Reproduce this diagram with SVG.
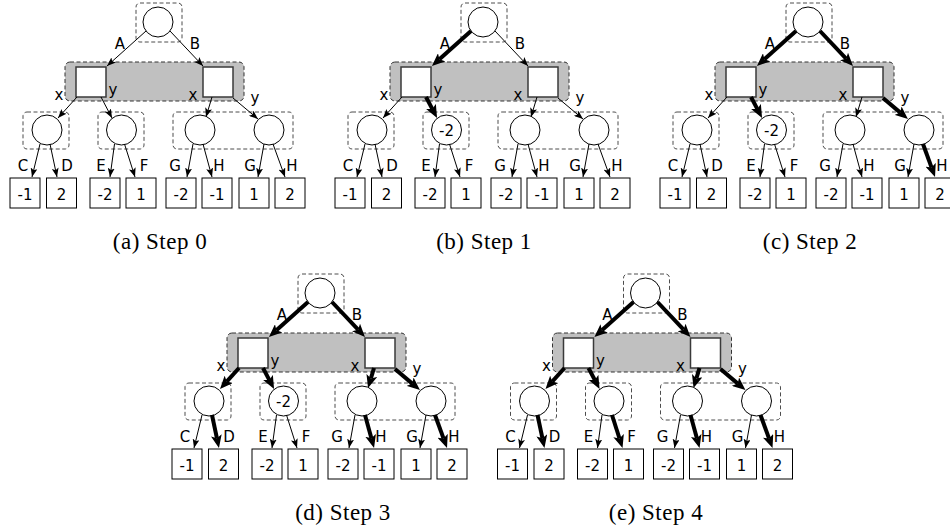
<svg xmlns="http://www.w3.org/2000/svg" width="950" height="531" viewBox="0 0 950 531">
<style>
.db{fill:none;stroke:#4d4d4d;stroke-width:1;stroke-dasharray:4 2.5}
.gb{fill:#c0c0c0;stroke:#333;stroke-width:1;stroke-dasharray:4 2.5}
.sq{fill:#fff;stroke:#3a3a3a;stroke-width:1.5}
.c{fill:#fff;stroke:#000;stroke-width:1}
.lf{fill:#fff;stroke:#000;stroke-width:1}
.tn{stroke:#000;stroke-width:1;fill:none;marker-end:url(#ah)}
.tk{stroke:#000;stroke-width:4;fill:none;marker-end:url(#ahk)}
.l{font-family:"DejaVu Sans",sans-serif;font-size:15px;text-anchor:middle;fill:#000}
.cap{font-family:"Liberation Serif","Times New Roman",serif;font-size:23px;text-anchor:middle;fill:#000;letter-spacing:0.5px}
</style>
<defs>
<marker id="ah" markerUnits="userSpaceOnUse" markerWidth="9" markerHeight="7" refX="9" refY="3.5" orient="auto"><path d="M0,0 L9,3.5 L0,7 L2,3.5 Z" fill="#000"/></marker>
<marker id="ahk" markerUnits="userSpaceOnUse" markerWidth="13" markerHeight="11" refX="3" refY="5.5" orient="auto"><path d="M0,0 L13,5.5 L0,11 L3,5.5 Z" fill="#000"/></marker>
</defs>

<!-- Panel (a) -->
<g id="panel-a" transform="translate(0,0)">
<g id="a-root"><rect class="db" x="136" y="3" width="46" height="39" rx="4"/><circle class="c" cx="158" cy="22" r="15"/></g>
<g id="a-choice"><rect class="gb" x="65" y="62" width="179" height="39" rx="5"/></g>
<g id="a-sqL"><rect class="sq" x="76" y="67" width="30" height="30"/></g>
<g id="a-sqR"><rect class="sq" x="203" y="67" width="30" height="30"/></g>
<g id="a-n1"><rect class="db" x="23" y="112" width="46" height="37" rx="4"/><circle class="c" cx="47" cy="130" r="15"/></g>
<g id="a-n2"><rect class="db" x="98" y="112" width="46" height="37" rx="4"/><circle class="c" cx="121.5" cy="130" r="15"/></g>
<g id="a-n3"><rect class="db" x="173" y="112" width="120" height="37" rx="4"/><g id="a-n3a"><circle class="c" cx="200" cy="130" r="15"/></g><g id="a-n3b"><circle class="c" cx="269" cy="130" r="15"/></g></g>
<g id="a-l1"><rect class="lf" x="10" y="178" width="30" height="30"/><text class="l" x="25" y="199.5">-1</text></g>
<g id="a-l2"><rect class="lf" x="46.5" y="178" width="30" height="30"/><text class="l" x="61.5" y="199.5">2</text></g>
<g id="a-l3"><rect class="lf" x="90" y="178" width="30" height="30"/><text class="l" x="105" y="199.5">-2</text></g>
<g id="a-l4"><rect class="lf" x="126" y="178" width="30" height="30"/><text class="l" x="141" y="199.5">1</text></g>
<g id="a-l5"><rect class="lf" x="166" y="178" width="30" height="30"/><text class="l" x="181" y="199.5">-2</text></g>
<g id="a-l6"><rect class="lf" x="202" y="178" width="30" height="30"/><text class="l" x="217" y="199.5">-1</text></g>
<g id="a-l7"><rect class="lf" x="239" y="178" width="30" height="30"/><text class="l" x="254" y="199.5">1</text></g>
<g id="a-l8"><rect class="lf" x="275" y="178" width="30" height="30"/><text class="l" x="290" y="199.5">2</text></g>
<g id="a-connectors">
<line class="tn" x1="146" y1="31" x2="107" y2="66"/>
<line class="tn" x1="170" y1="31" x2="203" y2="66"/>
<line class="tn" x1="77" y1="97" x2="58" y2="118"/>
<line class="tn" x1="101" y1="97" x2="112" y2="118"/>
<line class="tn" x1="212" y1="97" x2="206" y2="117"/>
<line class="tn" x1="233" y1="98" x2="258" y2="119"/>
<line class="tn" x1="40" y1="144" x2="32" y2="177"/>
<line class="tn" x1="50" y1="144" x2="57" y2="177"/>
<line class="tn" x1="114.5" y1="144" x2="110" y2="177"/>
<line class="tn" x1="124.5" y1="144" x2="135" y2="177"/>
<line class="tn" x1="193" y1="144" x2="187" y2="177"/>
<line class="tn" x1="203" y1="144" x2="212" y2="177"/>
<line class="tn" x1="264" y1="144" x2="258" y2="177"/>
<line class="tn" x1="273" y1="144" x2="285" y2="177"/>
<text class="l" x="120" y="49">A</text><text class="l" x="195" y="49">B</text>
<text class="l" x="59" y="100">x</text><text class="l" x="113" y="95">y</text>
<text class="l" x="193" y="100">x</text><text class="l" x="255" y="103">y</text>
<text class="l" x="23" y="171">C</text><text class="l" x="67" y="171">D</text>
<text class="l" x="101" y="171">E</text><text class="l" x="144" y="171">F</text>
<text class="l" x="175" y="171">G</text><text class="l" x="219" y="171">H</text>
<text class="l" x="250" y="171">G</text><text class="l" x="292" y="171">H</text>
</g>
</g>

<!-- Panel (b) -->
<g id="panel-b" transform="translate(325,0)">
<g id="b-root"><rect class="db" x="136" y="3" width="46" height="39" rx="4"/><circle class="c" cx="158" cy="22" r="15"/></g>
<g id="b-choice"><rect class="gb" x="65" y="62" width="179" height="39" rx="5"/></g>
<g id="b-sqL"><rect class="sq" x="76" y="67" width="30" height="30"/></g>
<g id="b-sqR"><rect class="sq" x="203" y="67" width="30" height="30"/></g>
<g id="b-n1"><rect class="db" x="23" y="112" width="46" height="37" rx="4"/><circle class="c" cx="47" cy="130" r="15"/></g>
<g id="b-n2"><rect class="db" x="98" y="112" width="46" height="37" rx="4"/><circle class="c" cx="121.5" cy="130" r="15"/><text class="l" x="121.5" y="135.5">-2</text></g>
<g id="b-n3"><rect class="db" x="173" y="112" width="120" height="37" rx="4"/><g id="b-n3a"><circle class="c" cx="200" cy="130" r="15"/></g><g id="b-n3b"><circle class="c" cx="269" cy="130" r="15"/></g></g>
<g id="b-l1"><rect class="lf" x="10" y="178" width="30" height="30"/><text class="l" x="25" y="199.5">-1</text></g>
<g id="b-l2"><rect class="lf" x="46.5" y="178" width="30" height="30"/><text class="l" x="61.5" y="199.5">2</text></g>
<g id="b-l3"><rect class="lf" x="90" y="178" width="30" height="30"/><text class="l" x="105" y="199.5">-2</text></g>
<g id="b-l4"><rect class="lf" x="126" y="178" width="30" height="30"/><text class="l" x="141" y="199.5">1</text></g>
<g id="b-l5"><rect class="lf" x="166" y="178" width="30" height="30"/><text class="l" x="181" y="199.5">-2</text></g>
<g id="b-l6"><rect class="lf" x="202" y="178" width="30" height="30"/><text class="l" x="217" y="199.5">-1</text></g>
<g id="b-l7"><rect class="lf" x="239" y="178" width="30" height="30"/><text class="l" x="254" y="199.5">1</text></g>
<g id="b-l8"><rect class="lf" x="275" y="178" width="30" height="30"/><text class="l" x="290" y="199.5">2</text></g>
<g id="b-connectors">
<line class="tk" x1="146" y1="31" x2="114.4" y2="59.3"/>
<line class="tn" x1="170" y1="31" x2="203" y2="66"/>
<line class="tn" x1="77" y1="97" x2="58" y2="118"/>
<line class="tk" x1="101" y1="97" x2="107.4" y2="109.1"/>
<line class="tn" x1="212" y1="97" x2="206" y2="117"/>
<line class="tn" x1="233" y1="98" x2="258" y2="119"/>
<line class="tn" x1="40" y1="144" x2="32" y2="177"/>
<line class="tn" x1="50" y1="144" x2="57" y2="177"/>
<line class="tn" x1="114.5" y1="144" x2="110" y2="177"/>
<line class="tn" x1="124.5" y1="144" x2="135" y2="177"/>
<line class="tn" x1="193" y1="144" x2="187" y2="177"/>
<line class="tn" x1="203" y1="144" x2="212" y2="177"/>
<line class="tn" x1="264" y1="144" x2="258" y2="177"/>
<line class="tn" x1="273" y1="144" x2="285" y2="177"/>
<text class="l" x="120" y="49">A</text><text class="l" x="195" y="49">B</text>
<text class="l" x="59" y="100">x</text><text class="l" x="113" y="95">y</text>
<text class="l" x="193" y="100">x</text><text class="l" x="255" y="103">y</text>
<text class="l" x="23" y="171">C</text><text class="l" x="67" y="171">D</text>
<text class="l" x="101" y="171">E</text><text class="l" x="144" y="171">F</text>
<text class="l" x="175" y="171">G</text><text class="l" x="219" y="171">H</text>
<text class="l" x="250" y="171">G</text><text class="l" x="292" y="171">H</text>
</g>
</g>

<!-- Panel (c) -->
<g id="panel-c" transform="translate(650,0)">
<g id="c-root"><rect class="db" x="136" y="3" width="46" height="39" rx="4"/><circle class="c" cx="158" cy="22" r="15"/></g>
<g id="c-choice"><rect class="gb" x="65" y="62" width="179" height="39" rx="5"/></g>
<g id="c-sqL"><rect class="sq" x="76" y="67" width="30" height="30"/></g>
<g id="c-sqR"><rect class="sq" x="203" y="67" width="30" height="30"/></g>
<g id="c-n1"><rect class="db" x="23" y="112" width="46" height="37" rx="4"/><circle class="c" cx="47" cy="130" r="15"/></g>
<g id="c-n2"><rect class="db" x="98" y="112" width="46" height="37" rx="4"/><circle class="c" cx="121.5" cy="130" r="15"/><text class="l" x="121.5" y="135.5">-2</text></g>
<g id="c-n3"><rect class="db" x="173" y="112" width="120" height="37" rx="4"/><g id="c-n3a"><circle class="c" cx="200" cy="130" r="15"/></g><g id="c-n3b"><circle class="c" cx="269" cy="130" r="15"/></g></g>
<g id="c-l1"><rect class="lf" x="10" y="178" width="30" height="30"/><text class="l" x="25" y="199.5">-1</text></g>
<g id="c-l2"><rect class="lf" x="46.5" y="178" width="30" height="30"/><text class="l" x="61.5" y="199.5">2</text></g>
<g id="c-l3"><rect class="lf" x="90" y="178" width="30" height="30"/><text class="l" x="105" y="199.5">-2</text></g>
<g id="c-l4"><rect class="lf" x="126" y="178" width="30" height="30"/><text class="l" x="141" y="199.5">1</text></g>
<g id="c-l5"><rect class="lf" x="166" y="178" width="30" height="30"/><text class="l" x="181" y="199.5">-2</text></g>
<g id="c-l6"><rect class="lf" x="202" y="178" width="30" height="30"/><text class="l" x="217" y="199.5">-1</text></g>
<g id="c-l7"><rect class="lf" x="239" y="178" width="30" height="30"/><text class="l" x="254" y="199.5">1</text></g>
<g id="c-l8"><rect class="lf" x="275" y="178" width="30" height="30"/><text class="l" x="290" y="199.5">2</text></g>
<g id="c-connectors">
<line class="tk" x1="146" y1="31" x2="114.4" y2="59.3"/>
<line class="tk" x1="170" y1="31" x2="196.1" y2="58.7"/>
<line class="tn" x1="77" y1="97" x2="58" y2="118"/>
<line class="tk" x1="101" y1="97" x2="107.4" y2="109.1"/>
<line class="tn" x1="212" y1="97" x2="206" y2="117"/>
<line class="tk" x1="233" y1="98" x2="250.3" y2="112.6"/>
<line class="tn" x1="40" y1="144" x2="32" y2="177"/>
<line class="tn" x1="50" y1="144" x2="57" y2="177"/>
<line class="tn" x1="114.5" y1="144" x2="110" y2="177"/>
<line class="tn" x1="124.5" y1="144" x2="135" y2="177"/>
<line class="tn" x1="193" y1="144" x2="187" y2="177"/>
<line class="tn" x1="203" y1="144" x2="212" y2="177"/>
<line class="tn" x1="264" y1="144" x2="258" y2="177"/>
<line class="tk" x1="273" y1="144" x2="281.6" y2="167.6"/>
<text class="l" x="120" y="49">A</text><text class="l" x="195" y="49">B</text>
<text class="l" x="59" y="100">x</text><text class="l" x="113" y="95">y</text>
<text class="l" x="193" y="100">x</text><text class="l" x="255" y="103">y</text>
<text class="l" x="23" y="171">C</text><text class="l" x="67" y="171">D</text>
<text class="l" x="101" y="171">E</text><text class="l" x="144" y="171">F</text>
<text class="l" x="175" y="171">G</text><text class="l" x="219" y="171">H</text>
<text class="l" x="250" y="171">G</text><text class="l" x="292" y="171">H</text>
</g>
</g>

<!-- Panel (d) -->
<g id="panel-d" transform="translate(162,271)">
<g id="d-root"><rect class="db" x="136" y="3" width="46" height="39" rx="4"/><circle class="c" cx="158" cy="22" r="15"/></g>
<g id="d-choice"><rect class="gb" x="65" y="62" width="179" height="39" rx="5"/></g>
<g id="d-sqL"><rect class="sq" x="76" y="67" width="30" height="30"/></g>
<g id="d-sqR"><rect class="sq" x="203" y="67" width="30" height="30"/></g>
<g id="d-n1"><rect class="db" x="23" y="112" width="46" height="37" rx="4"/><circle class="c" cx="47" cy="130" r="15"/></g>
<g id="d-n2"><rect class="db" x="98" y="112" width="46" height="37" rx="4"/><circle class="c" cx="121.5" cy="130" r="15"/><text class="l" x="121.5" y="135.5">-2</text></g>
<g id="d-n3"><rect class="db" x="173" y="112" width="120" height="37" rx="4"/><g id="d-n3a"><circle class="c" cx="200" cy="130" r="15"/></g><g id="d-n3b"><circle class="c" cx="269" cy="130" r="15"/></g></g>
<g id="d-l1"><rect class="lf" x="10" y="178" width="30" height="30"/><text class="l" x="25" y="199.5">-1</text></g>
<g id="d-l2"><rect class="lf" x="46.5" y="178" width="30" height="30"/><text class="l" x="61.5" y="199.5">2</text></g>
<g id="d-l3"><rect class="lf" x="90" y="178" width="30" height="30"/><text class="l" x="105" y="199.5">-2</text></g>
<g id="d-l4"><rect class="lf" x="126" y="178" width="30" height="30"/><text class="l" x="141" y="199.5">1</text></g>
<g id="d-l5"><rect class="lf" x="166" y="178" width="30" height="30"/><text class="l" x="181" y="199.5">-2</text></g>
<g id="d-l6"><rect class="lf" x="202" y="178" width="30" height="30"/><text class="l" x="217" y="199.5">-1</text></g>
<g id="d-l7"><rect class="lf" x="239" y="178" width="30" height="30"/><text class="l" x="254" y="199.5">1</text></g>
<g id="d-l8"><rect class="lf" x="275" y="178" width="30" height="30"/><text class="l" x="290" y="199.5">2</text></g>
<g id="d-connectors">
<line class="tk" x1="146" y1="31" x2="114.4" y2="59.3"/>
<line class="tk" x1="170" y1="31" x2="196.1" y2="58.7"/>
<line class="tk" x1="77" y1="97" x2="64.7" y2="110.6"/>
<line class="tk" x1="101" y1="97" x2="107.4" y2="109.1"/>
<line class="tk" x1="212" y1="97" x2="208.9" y2="107.4"/>
<line class="tk" x1="233" y1="98" x2="250.3" y2="112.6"/>
<line class="tn" x1="40" y1="144" x2="32" y2="177"/>
<line class="tk" x1="50" y1="144" x2="54.9" y2="167.2"/>
<line class="tn" x1="114.5" y1="144" x2="110" y2="177"/>
<line class="tn" x1="124.5" y1="144" x2="135" y2="177"/>
<line class="tn" x1="193" y1="144" x2="187" y2="177"/>
<line class="tk" x1="203" y1="144" x2="209.4" y2="167.3"/>
<line class="tn" x1="264" y1="144" x2="258" y2="177"/>
<line class="tk" x1="273" y1="144" x2="281.6" y2="167.6"/>
<text class="l" x="120" y="49">A</text><text class="l" x="195" y="49">B</text>
<text class="l" x="59" y="100">x</text><text class="l" x="113" y="95">y</text>
<text class="l" x="193" y="100">x</text><text class="l" x="255" y="103">y</text>
<text class="l" x="23" y="171">C</text><text class="l" x="67" y="171">D</text>
<text class="l" x="101" y="171">E</text><text class="l" x="144" y="171">F</text>
<text class="l" x="175" y="171">G</text><text class="l" x="219" y="171">H</text>
<text class="l" x="250" y="171">G</text><text class="l" x="292" y="171">H</text>
</g>
</g>

<!-- Panel (e) -->
<g id="panel-e" transform="translate(487.5,271)">
<g id="e-root"><rect class="db" x="136" y="3" width="46" height="39" rx="4"/><circle class="c" cx="158" cy="22" r="15"/></g>
<g id="e-choice"><rect class="gb" x="65" y="62" width="179" height="39" rx="5"/></g>
<g id="e-sqL"><rect class="sq" x="76" y="67" width="30" height="30"/></g>
<g id="e-sqR"><rect class="sq" x="203" y="67" width="30" height="30"/></g>
<g id="e-n1"><rect class="db" x="23" y="112" width="46" height="37" rx="4"/><circle class="c" cx="47" cy="130" r="15"/></g>
<g id="e-n2"><rect class="db" x="98" y="112" width="46" height="37" rx="4"/><circle class="c" cx="121.5" cy="130" r="15"/></g>
<g id="e-n3"><rect class="db" x="173" y="112" width="120" height="37" rx="4"/><g id="e-n3a"><circle class="c" cx="200" cy="130" r="15"/></g><g id="e-n3b"><circle class="c" cx="269" cy="130" r="15"/></g></g>
<g id="e-l1"><rect class="lf" x="10" y="178" width="30" height="30"/><text class="l" x="25" y="199.5">-1</text></g>
<g id="e-l2"><rect class="lf" x="46.5" y="178" width="30" height="30"/><text class="l" x="61.5" y="199.5">2</text></g>
<g id="e-l3"><rect class="lf" x="90" y="178" width="30" height="30"/><text class="l" x="105" y="199.5">-2</text></g>
<g id="e-l4"><rect class="lf" x="126" y="178" width="30" height="30"/><text class="l" x="141" y="199.5">1</text></g>
<g id="e-l5"><rect class="lf" x="166" y="178" width="30" height="30"/><text class="l" x="181" y="199.5">-2</text></g>
<g id="e-l6"><rect class="lf" x="202" y="178" width="30" height="30"/><text class="l" x="217" y="199.5">-1</text></g>
<g id="e-l7"><rect class="lf" x="239" y="178" width="30" height="30"/><text class="l" x="254" y="199.5">1</text></g>
<g id="e-l8"><rect class="lf" x="275" y="178" width="30" height="30"/><text class="l" x="290" y="199.5">2</text></g>
<g id="e-connectors">
<line class="tk" x1="146" y1="31" x2="114.4" y2="59.3"/>
<line class="tk" x1="170" y1="31" x2="196.1" y2="58.7"/>
<line class="tk" x1="77" y1="97" x2="64.7" y2="110.6"/>
<line class="tk" x1="101" y1="97" x2="107.4" y2="109.1"/>
<line class="tk" x1="212" y1="97" x2="208.9" y2="107.4"/>
<line class="tk" x1="233" y1="98" x2="250.3" y2="112.6"/>
<line class="tn" x1="40" y1="144" x2="32" y2="177"/>
<line class="tk" x1="50" y1="144" x2="54.9" y2="167.2"/>
<line class="tn" x1="114.5" y1="144" x2="110" y2="177"/>
<line class="tk" x1="124.5" y1="144" x2="132" y2="167.5"/>
<line class="tn" x1="193" y1="144" x2="187" y2="177"/>
<line class="tk" x1="203" y1="144" x2="209.4" y2="167.3"/>
<line class="tn" x1="264" y1="144" x2="258" y2="177"/>
<line class="tk" x1="273" y1="144" x2="281.6" y2="167.6"/>
<text class="l" x="120" y="49">A</text><text class="l" x="195" y="49">B</text>
<text class="l" x="59" y="100">x</text><text class="l" x="113" y="95">y</text>
<text class="l" x="193" y="100">x</text><text class="l" x="255" y="103">y</text>
<text class="l" x="23" y="171">C</text><text class="l" x="67" y="171">D</text>
<text class="l" x="101" y="171">E</text><text class="l" x="144" y="171">F</text>
<text class="l" x="175" y="171">G</text><text class="l" x="219" y="171">H</text>
<text class="l" x="250" y="171">G</text><text class="l" x="292" y="171">H</text>
</g>
</g>

<g id="captions">
<text class="cap" x="160" y="249">(a) Step 0</text>
<text class="cap" x="484" y="249">(b) Step 1</text>
<text class="cap" x="810" y="249">(c) Step 2</text>
<text class="cap" x="343" y="520">(d) Step 3</text>
<text class="cap" x="656" y="520">(e) Step 4</text>
</g>
</svg>
